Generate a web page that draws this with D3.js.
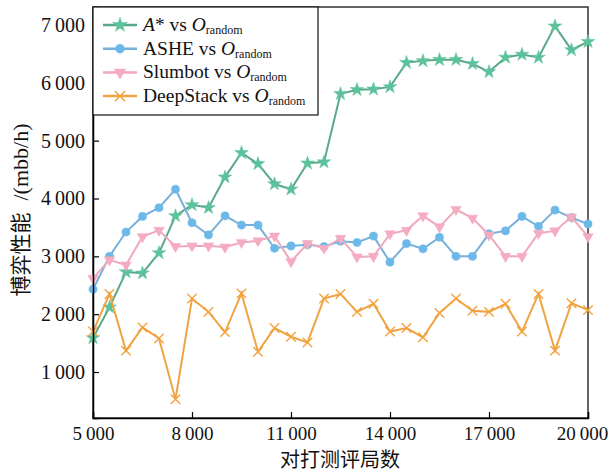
<!DOCTYPE html>
<html>
<head>
<meta charset="utf-8">
<script src="https://cdn.jsdelivr.net/npm/d3@7"></script>
<style>
  body { margin: 0; background: #fff; }
  text { font-family: "Liberation Serif", "DejaVu Serif", serif; }
</style>
</head>
<body>
<svg width="612" height="473"></svg>
<script>
var games = d3.range(5000, 20001, 500);

var aStar     = [1590, 2120, 2730, 2710, 3060, 3700, 3890, 3840, 4370, 4790, 4600, 4250, 4160, 4610, 4630,
                 5810, 5880, 5890, 5930, 6350, 6380, 6400, 6400, 6330, 6190, 6440, 6490, 6440, 6980, 6570, 6710];
var ashe      = [2430, 3000, 3420, 3690, 3840, 4160, 3580, 3370, 3700, 3540, 3540, 3140, 3180, 3200, 3170,
                 3260, 3240, 3350, 2900, 3220, 3130, 3330, 3000, 3000, 3390, 3440, 3690, 3520, 3800, 3670, 3560];
var slumbot   = [2620, 2940, 2850, 3340, 3450, 3170, 3180, 3180, 3160, 3240, 3270, 3350, 2910, 3220, 3140,
                 3310, 2990, 3000, 3390, 3450, 3700, 3510, 3810, 3660, 3370, 3000, 3000, 3400, 3440, 3680, 3340];
var deepStack = [1700, 2350, 1370, 1770, 1580, 530, 2270, 2040, 1690, 2360, 1350, 1760, 1610, 1510, 2270,
                 2350, 2040, 2180, 1700, 1760, 1600, 2020, 2270, 2060, 2040, 2180, 1700, 2350, 1370, 2190, 2070];

var xTicks = [5000, 8000, 11000, 14000, 17000, 20000];
var yTicks = [1000, 2000, 3000, 4000, 5000, 6000, 7000];

var seriesNames = ["A*", "ASHE", "Slumbot", "DeepStack"];
var seriesValues = [aStar, ashe, slumbot, deepStack];
var colors = ["#5cc29b", "#6cb8e8", "#f5abc0", "#f5a23c"];
var lineColors = ["#5aa88c", "#78b0da", "#f0a8bc", "#eea443"];
var symbols = [d3.symbolStar, d3.symbolCircle, d3.symbolTriangle, d3.symbolTimes];

var pLeft = 93, pRight = 588, pTop = 7, pBottom = 418;

var svg = d3.select("svg");

var x = d3.scaleLinear().domain([5000, 20000]).range([pLeft, pRight]);
var y = d3.scaleLinear().domain([205, 7311]).range([pBottom, pTop]);

var fmt = d3.formatLocale({decimal: ".", thousands: "\u2009", grouping: [3], currency: ["", ""]}).format(",");

// frame
svg.append("rect")
    .attr("x", pLeft).attr("y", pTop)
    .attr("width", pRight - pLeft).attr("height", pBottom - pTop)
    .attr("fill", "none").attr("stroke", "#333").attr("stroke-width", 1.5);

var line = d3.line()
    .x(function(d, i) { return x(games[i]); })
    .y(function(d) { return y(d); });

function symSize(k) { return [58, 52, 48, 60][k]; }

seriesValues.forEach(function(vals, k) {
    svg.append("path")
        .attr("d", line(vals))
        .attr("fill", "none")
        .attr("stroke", lineColors[k])
        .attr("stroke-width", 2);
    svg.append("g").selectAll("path")
        .data(vals)
        .enter()
        .append("path")
        .attr("transform", function(d, i) {
            var rot = k == 2 ? " rotate(180)" : "";
            return "translate(" + x(games[i]) + "," + y(d) + ")" + rot;
        })
        .attr("d", d3.symbol().type(symbols[k]).size(symSize(k)))
        .attr("fill", k == 3 ? "none" : colors[k])
        .attr("stroke", colors[k])
        .attr("stroke-width", k == 3 ? 1.4 : 0.5);
});

var xAxis = d3.axisBottom(x).tickValues(xTicks).tickSize(-6).tickPadding(9).tickFormat(fmt);
var yAxis = d3.axisLeft(y).tickValues(yTicks).tickSize(-6).tickPadding(8).tickFormat(fmt);

var gx = svg.append("g").attr("transform", "translate(0," + pBottom + ")").call(xAxis);
var gy = svg.append("g").attr("transform", "translate(" + pLeft + ",0)").call(yAxis);
[gx, gy].forEach(function(g) {
    g.select(".domain").attr("stroke", "#000").attr("stroke-width", 1.5);
    g.selectAll(".tick line").attr("stroke", "#000").attr("stroke-width", 1.2);
    g.selectAll(".tick text").attr("font-size", 20).attr("fill", "#111")
        .style("font-family", "'Liberation Serif', serif");
});
gx.selectAll(".tick text").attr("font-size", 19)
    .attr("dx", function(d) { return d == 20000 ? -6 : 0; });

// axis titles
svg.append("text")
    .attr("x", 340).attr("y", 467)
    .attr("text-anchor", "middle")
    .attr("font-size", 20)
    .attr("fill", "#111")
    .style("font-family", "'Noto Sans CJK SC', sans-serif")
    .text("对打测评局数");

var yt = svg.append("text")
    .attr("transform", "translate(28,210) rotate(-90)")
    .attr("text-anchor", "middle")
    .attr("font-size", 21)
    .attr("fill", "#111");
yt.append("tspan").style("font-family", "'Noto Sans CJK SC', sans-serif").text("博弈性能");
yt.append("tspan").attr("dx", 12).attr("font-size", 22).text("/(mbb/h)");

// legend
var lg = svg.append("g");
lg.append("rect")
    .attr("x", pLeft).attr("y", pTop)
    .attr("width", 225).attr("height", 108)
    .attr("fill", "#fff").attr("stroke", "#111").attr("stroke-width", 1.2);

seriesNames.forEach(function(name, k) {
    var ly = 25 + k * 23.7;
    lg.append("line")
        .attr("x1", 103).attr("x2", 137).attr("y1", ly).attr("y2", ly)
        .attr("stroke", lineColors[k]).attr("stroke-width", 2.5);
    lg.append("path")
        .attr("transform", "translate(120," + ly + ")" + (k == 2 ? " rotate(180)" : ""))
        .attr("d", d3.symbol().type(symbols[k]).size(symSize(k) + 10))
        .attr("fill", k == 3 ? "none" : colors[k])
        .attr("stroke", colors[k])
        .attr("stroke-width", k == 3 ? 1.5 : 0.5);
    var t = lg.append("text").attr("x", 143).attr("y", ly + 6).attr("font-size", 19.5).attr("fill", "#111");
    if (k == 0) {
        t.append("tspan").attr("font-style", "italic").text("A");
        t.append("tspan").text("* vs ");
    } else {
        t.append("tspan").text(name + " vs ");
    }
    t.append("tspan").attr("font-style", "italic").text("O");
    t.append("tspan").attr("font-size", 12).attr("dy", 3).text("random");
});
</script>
</body>
</html>
